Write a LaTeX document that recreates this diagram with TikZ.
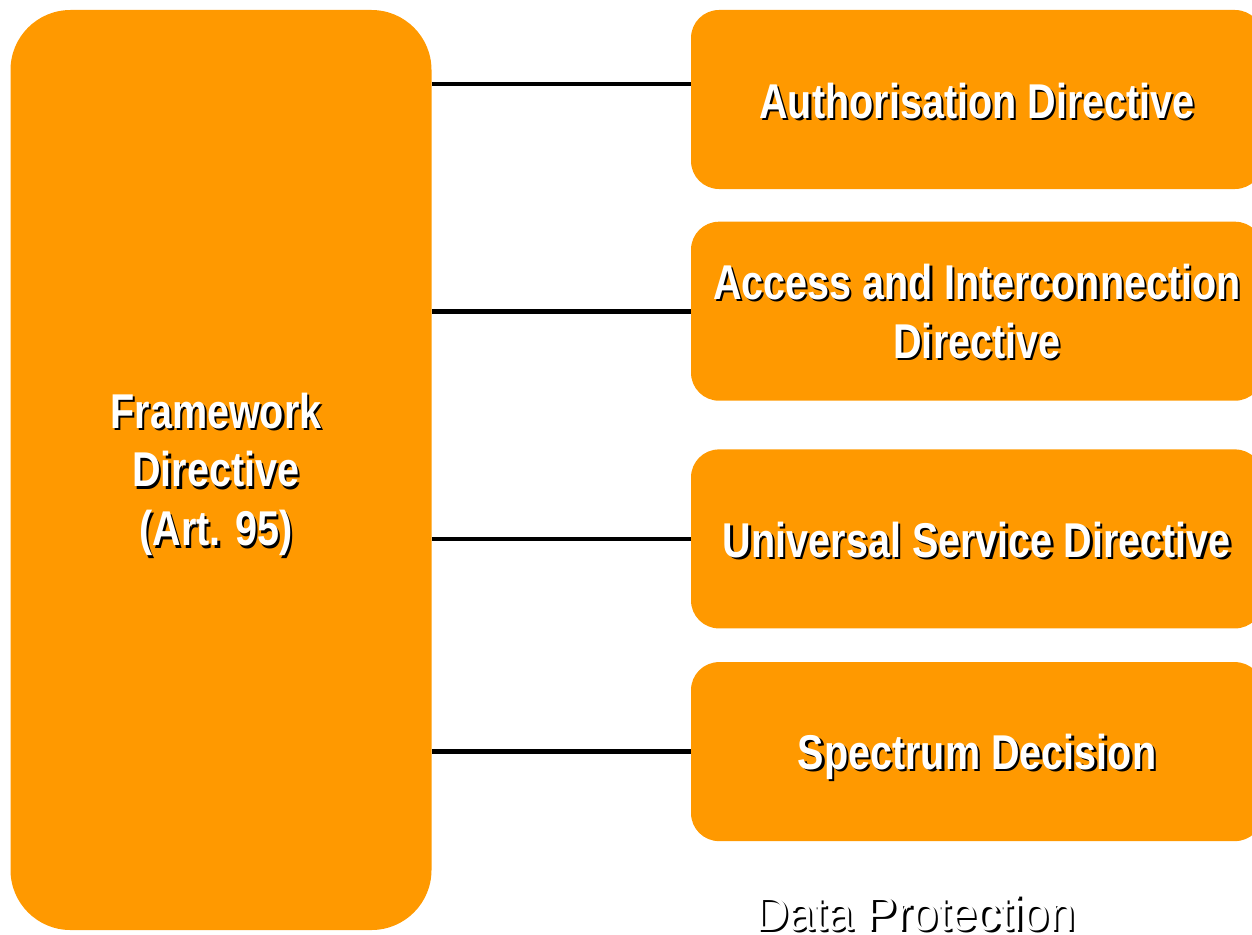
\documentclass[tikz,border=0pt]{standalone}
\usepackage{fontspec}
\setmainfont{Liberation Sans}[FakeStretch=0.81]
\newfontfamily\plainfont{Liberation Sans}[FakeStretch=0.95]
\usetikzlibrary{positioning}

\definecolor{dirorange}{RGB}{255,153,0}

% white letters with a dark drop shadow
\newcommand{\shadowed}[1]{\leavevmode\rlap{\kern1.3pt\raisebox{-1.3pt}{\textcolor{black}{#1}}}#1}

\begin{document}
\begin{tikzpicture}
                [
                    frame/.style = {rectangle, fill=dirorange, minimum width=8.42cm, minimum height=18.4cm, rounded corners=1.2cm},
                    directive/.style = {rectangle, fill=dirorange, minimum width=11.44cm, minimum height=3.58cm, rounded corners=0.56cm},
                    label/.style = {text=white, font=\fontsize{27.8}{33.5}\selectfont\bfseries, align=center},
                    link/.style = {line width=2.7pt}
                ]
                \useasboundingbox (0,0) rectangle (25.04,-18.68);
                \clip (0,0) rectangle (25.04,-18.68);

                \node (frame) [frame] at (4.42,-9.4) {};
                \node (auth) [directive] at (19.54,-1.99) {};
                \node (access) [directive, below=0.64cm of auth] {};
                \node (usd) [directive, below=0.96cm of access] {};
                \node (spectrum) [directive, below=0.66cm of usd] {};

                \node [label] at ([xshift=-0.1cm, yshift=-0.11cm]frame) {\shadowed{Framework}\\\shadowed{Directive}\\\shadowed{(Art. 95)}};
                \node [label] at ([yshift=-0.05cm]auth) {\shadowed{Authorisation Directive}};
                \node [label] at ([yshift=-0.03cm]access) {\shadowed{Access and Interconnection}\\\shadowed{Directive}};
                \node [label] at ([yshift=-0.04cm]usd) {\shadowed{Universal Service Directive}};
                \node [label] at ([yshift=-0.12cm]spectrum) {\shadowed{Spectrum Decision}};

                \coordinate (authin) at ([yshift=0.31cm]auth.west);
                \draw[link] (authin -| frame.east) -- (authin);
                \draw[link] (access.west -| frame.east) -- (access.west);
                \draw[link] (usd.west -| frame.east) -- (usd.west);
                \draw[link] (spectrum.west -| frame.east) -- (spectrum.west);

                \node (dataprot) [text=white, font=\fontsize{27.8}{33}\selectfont\plainfont, anchor=base, inner sep=0pt] at (18.3,-18.6) {\shadowed{Data Protection}};

            \end{tikzpicture}
\end{document}
